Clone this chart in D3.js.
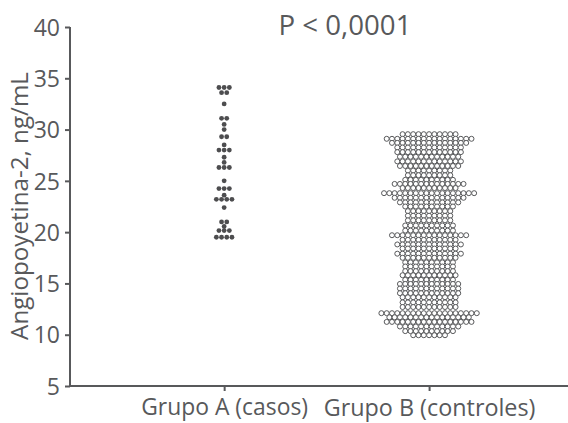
<!DOCTYPE html>
<html>
<head>
<meta charset="utf-8">
<script src="https://cdn.jsdelivr.net/npm/d3@7"></script>
<style>
  body { margin: 0; background: #fff; }
  text { font-family: "Open Sans", sans-serif; fill: #58595b; }
</style>
</head>
<body>
<svg id="chart"></svg>
<script>
// Dot plot of angiopoietin-2 levels, cases vs controls

const width = 568, height = 423;
const margin = { top: 27, right: 0, bottom: 37, left: 70 };

const groups = ["Grupo A (casos)", "Grupo B (controles)"];
const yTicks = [5, 10, 15, 20, 25, 30, 35, 40];
const title = "P < 0,0001";
const yLabel = "Angiopoyetina-2, ng/mL";

// Group A: each level and how many patients sit on it
const casosLevels = [34.1, 33.6, 32.5, 31.1, 30.5, 30.0, 29.3, 28.5, 28.0, 27.3, 26.8,
    26.3, 25.0, 24.25, 23.6, 23.2, 22.4, 21.0, 20.55, 20.15, 19.5];
const casosCounts = [3, 2, 1, 2, 1, 1, 2, 1, 3, 1, 1, 3, 1, 3, 1, 4, 1, 2, 1, 3, 4];

// Group B: same, rows
const controlesLevels = [29.55, 29.1, 28.7, 28.25, 27.8, 27.35, 26.9, 26.45, 26.0, 25.55,
    25.1, 24.7, 24.3, 23.8, 23.35, 22.9, 22.5, 22.05, 21.6, 21.15, 20.65, 20.15, 19.7,
    19.25, 18.8, 18.4, 17.9, 17.5, 17.05, 16.65, 16.2, 15.8, 15.35, 14.95, 14.5, 14.05,
    13.65, 13.15, 12.7, 12.1, 11.7, 11.25, 10.8, 10.35, 9.95];
const controlesCounts = [11, 17, 15, 13, 13, 12, 13, 12, 9, 9,
    10, 14, 11, 18, 14, 12, 10, 9, 9, 9, 10, 10, 15,
    11, 13, 11, 13, 11, 10, 10, 10, 11, 10, 12, 12, 12,
    11, 11, 11, 19, 16, 17, 12, 10, 7];

const svg = d3.select("#chart")
    .attr("width", width)
    .attr("height", height);

const x = d3.scalePoint()
    .domain(groups)
    .range([margin.left, width - margin.right])
    .padding(0.715)
    .align(0.526);

const y = d3.scaleLinear()
    .domain([5, 40])
    .range([height - margin.bottom, margin.top]);

// fit a text element to a measured width from the reference
function fitWidth(sel, target) {
    sel.each(function () {
        const fs = parseFloat(d3.select(this).attr("font-size"));
        const w = this.getComputedTextLength();
        d3.select(this).attr("font-size", fs * target / w);
    });
}

// expand level/count pairs into dot positions
function layout(levels, counts, group, spacing) {
    const pts = [];
    levels.forEach((v, i) => {
        const n = counts[i];
        for (let k = 0; k < n; k++) {
            pts.push({ value: v, dx: (k - (n - 1) / 2) * spacing, group: group });
        }
    });
    return pts;
}

const casos = layout(casosLevels, casosCounts, groups[0], 5.2);
const controles = layout(controlesLevels, controlesCounts, groups[1], 5.3);

// axes
const yAxis = svg.append("g")
    .attr("transform", `translate(${margin.left},0)`)
    .call(d3.axisLeft(y).tickValues(yTicks).tickSize(5).tickSizeOuter(0).tickPadding(5));

const xAxis = svg.append("g")
    .attr("transform", `translate(0,${height - margin.bottom})`)
    .call(d3.axisBottom(x).tickSize(5).tickSizeOuter(0).tickPadding(8));

[yAxis, xAxis].forEach(g => {
    g.selectAll("path, line").attr("stroke", "#58595b").attr("stroke-width", 2);
    g.selectAll("text").attr("fill", "#58595b").attr("font-family", "Open Sans, sans-serif");
});
yAxis.select(".domain").attr("d", `M0,${y(40)}V${y(5)}`);
xAxis.select(".domain").attr("d", `M${margin.left - 1},0H${width}`);

yAxis.selectAll("text").attr("font-size", 23).attr("dy", "0.36em");
xAxis.selectAll("text").attr("font-size", 20);
xAxis.selectAll(".tick text").each(function (d, i) {
    fitWidth(d3.select(this), [167, 212][i]);
});

// dots
svg.append("g")
    .selectAll("circle")
    .data(controles)
    .enter()
    .append("circle")
    .attr("cx", d => x(d.group) + d.dx)
    .attr("cy", d => y(d.value))
    .attr("r", 2.5)
    .attr("fill", "#fff")
    .attr("stroke", "#58595b")
    .attr("stroke-width", 1);

svg.append("g")
    .selectAll("circle")
    .data(casos)
    .enter()
    .append("circle")
    .attr("cx", d => x(d.group) + d.dx)
    .attr("cy", d => y(d.value))
    .attr("r", 2.4)
    .attr("fill", "#4d4d4f");

// title
svg.append("text")
    .attr("x", 345)
    .attr("y", 35)
    .attr("text-anchor", "middle")
    .attr("font-size", 26)
    .text(title)
    .call(fitWidth, 133);

// y label
svg.append("text")
    .attr("transform", "translate(28,206) rotate(-90)")
    .attr("text-anchor", "middle")
    .attr("font-size", 21)
    .text(yLabel)
    .call(fitWidth, 268);
</script>
</body>
</html>
